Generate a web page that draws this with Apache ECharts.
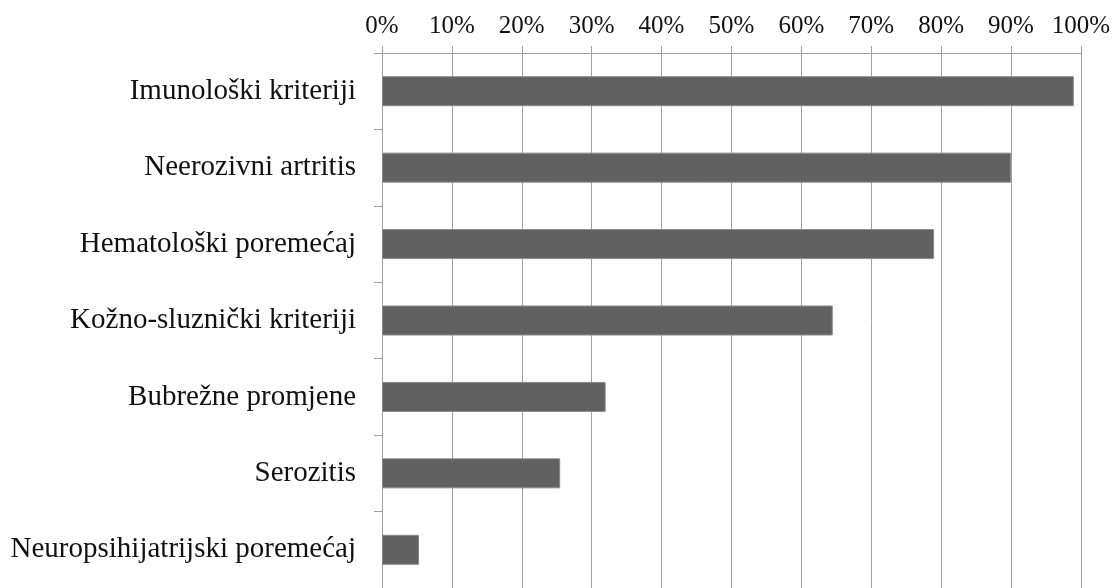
<!DOCTYPE html>
<html>
<head>
<meta charset="utf-8">
<script src="https://cdn.jsdelivr.net/npm/echarts@6/dist/echarts.min.js"></script>
<style>
  html, body { margin: 0; padding: 0; background: #fff; }
  #chart { width: 1113px; height: 588px; }
</style>
</head>
<body>
<div id="chart"></div>
<script>
// categories top to bottom
const categories = [
  'Imunološki kriteriji',
  'Neerozivni artritis',
  'Hematološki poremećaj',
  'Kožno-sluznički kriteriji',
  'Bubrežne promjene',
  'Serozitis',
  'Neuropsihijatrijski poremećaj'
];
// share of patients, %
const values = [99, 90, 79, 64.5, 32, 25.5, 5.3];

const chart = echarts.init(document.getElementById('chart'));

const lineColor = '#a0a0a0';
const font = '"Liberation Serif", "Times New Roman", serif';

chart.setOption({
  animation: false,
  grid: { left: 382, right: 32, top: 53, bottom: -4, containLabel: false },
  xAxis: {
    type: 'value',
    position: 'top',
    min: 0,
    max: 100,
    interval: 10,
    axisLine: { show: true, lineStyle: { color: lineColor, width: 1 } },
    axisTick: { show: true, length: 7, lineStyle: { color: lineColor } },
    axisLabel: {
      formatter: '{value}%',
      color: '#111',
      fontFamily: font,
      fontSize: 25,
      margin: 14
    },
    splitLine: { show: true, lineStyle: { color: lineColor, width: 1 } }
  },
  yAxis: {
    type: 'category',
    data: categories,
    inverse: true,
    axisLine: { show: true, lineStyle: { color: lineColor, width: 1 } },
    axisTick: { show: true, length: 8, lineStyle: { color: lineColor } },
    axisLabel: {
      color: '#111',
      fontFamily: font,
      fontSize: 29,
      margin: 26,
      padding: [4, 0, 0, 0]
    }
  },
  series: [{
    type: 'bar',
    data: values,
    barWidth: 30,
    itemStyle: { color: '#616161', borderColor: '#8a8a8a', borderWidth: 1 }
  }]
});
</script>
</body>
</html>
